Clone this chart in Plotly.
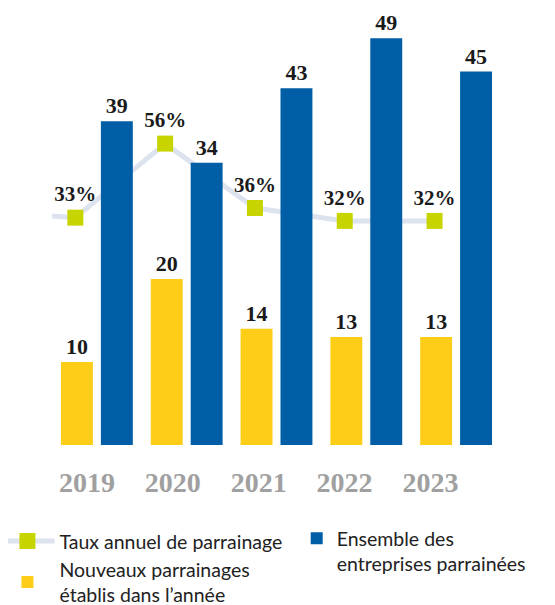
import plotly.graph_objects as go

# ---- data ----
years = ["2019", "2020", "2021", "2022", "2023"]
nouveaux = [10, 20, 14, 13, 13]          # Nouveaux parrainages établis dans l'année
ensemble = [39, 34, 43, 49, 45]          # Ensemble des entreprises parrainées
taux = [33, 56, 36, 32, 32]              # Taux annuel de parrainage (%)
taux_previous = 35                       # estimated value of the year before (line stub at left)

# ---- style ----
YELLOW = "#FDCD17"
BLUE = "#005EA6"
GREEN = "#C8D400"
LINE = "#DCE3EE"
SERIF = "Liberation Serif"
SANS = "Lato"

pos = list(range(len(years)))
marker_shift = -0.24
line_x = [-1 + marker_shift] + [p + marker_shift for p in pos]
line_y = [taux_previous] + taux
line_text = [""] + [f"{v}%" for v in taux]

fig = go.Figure()

fig.add_trace(go.Scatter(
    x=line_x, y=line_y, yaxis="y", mode="lines+markers+text",
    name="Taux annuel de parrainage",
    line=dict(color=LINE, width=5),
    marker=dict(symbol="square", size=16, color=GREEN),
    text=line_text, textposition="top center",
    textfont=dict(family=SERIF, size=21, color="#1a1a1a", weight="bold"),
    legend="legend", showlegend=True,
))

fig.add_trace(go.Bar(
    x=pos, y=nouveaux, yaxis="y2", name="Nouveaux parrainages<br>établis dans l’année",
    marker=dict(color=YELLOW, line=dict(width=0)),
    text=[str(v) for v in nouveaux], textposition="outside", cliponaxis=False,
    constraintext="none",
    textfont=dict(family=SERIF, size=22, color="#1a1a1a", weight="bold"),
    legend="legend",
))

fig.add_trace(go.Bar(
    x=pos, y=ensemble, yaxis="y2", name="Ensemble des<br>entreprises parrainées",
    marker=dict(color=BLUE, line=dict(width=0)),
    text=[str(v) for v in ensemble], textposition="outside", cliponaxis=False,
    constraintext="none",
    textfont=dict(family=SERIF, size=22, color="#1a1a1a", weight="bold"),
    legend="legend2",
))

tickvals = [p * 0.956 - 0.11 for p in pos]

fig.update_layout(
    width=555, height=605,
    margin=dict(l=44, r=61.5, t=30, b=168, autoexpand=False),
    paper_bgcolor="white", plot_bgcolor="white",
    barmode="group", bargap=0.111, bargroupgap=0.2,
    xaxis=dict(range=[-0.5, 4.5], tickvals=tickvals, ticktext=years,
               showgrid=False, zeroline=False, showline=False, ticks="",
               ticklabelstandoff=18,
               tickfont=dict(family=SERIF, size=28, color="#A0A0A0", weight="bold")),
    yaxis=dict(range=[-37.6, 88.8], visible=False, showgrid=False, zeroline=False),
    yaxis2=dict(range=[0, 49.04], overlaying="y", visible=False,
                showgrid=False, zeroline=False),
    legend=dict(x=-0.126, xanchor="left", y=-0.189, yanchor="top",
                orientation="v", itemwidth=54, valign="middle",
                font=dict(family=SANS, size=19.5, color="#222222"),
                bgcolor="rgba(0,0,0,0)", tracegroupgap=0),
    legend2=dict(x=0.545, xanchor="left", y=-0.182, yanchor="top",
                 orientation="v", valign="top",
                 font=dict(family=SANS, size=19.5, color="#222222"),
                 bgcolor="rgba(0,0,0,0)"),
    showlegend=True,
)

fig.write_html("out.html")
